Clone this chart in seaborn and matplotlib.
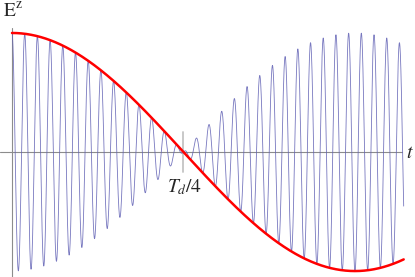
import numpy as np
import pandas as pd
import matplotlib
matplotlib.use("Agg")
import matplotlib.pyplot as plt
import seaborn as sns

# Values (time in units of T_d)
t_start = 0.0
t_end = 0.571            # where both curves stop
carrier_cycles = 54      # fast oscillations per T_d
envelope_amp = 1.0
marked_time = 0.25       # T_d/4 tick
marked_label = r"$T_d/4$"
y_label = r"$\mathrm{E}^{\mathrm{z}}$"
x_label = r"$t$"

t = np.linspace(t_start, t_end, 6000)
envelope = envelope_amp * np.cos(2 * np.pi * t)
signal = envelope * np.cos(2 * np.pi * carrier_cycles * t)
df = pd.DataFrame({"t": t, "envelope": envelope, "signal": signal})

sns.set_style("white")
plt.rcParams["mathtext.fontset"] = "stix"

fig = plt.figure(figsize=(4.15, 2.77), dpi=100)
ax = fig.add_axes([0, 0, 1, 1])

sns.lineplot(data=df, x="t", y="signal", ax=ax, color="#6060b4", lw=0.6, alpha=0.85)
sns.lineplot(data=df, x="t", y="envelope", ax=ax, color="#ff0000", lw=1.8)

ax.set_xlim(-0.0175, 0.5875)
ax.set_ylim(-1.050, 1.277)
ax.axis("off")

# axes through the origin, Mathematica style
ax.axhline(0, xmin=0, xmax=402 / 415, color="#8c8c8c", lw=0.8, zorder=0)
ax.axvline(0, ymin=0, ymax=(277 - 28) / 277, color="#8c8c8c", lw=0.8, zorder=0)
ax.plot([marked_time, marked_time], [-0.168, 0.168], color="#c4c4c4", lw=1.3, zorder=0)

ax.text(marked_time + 0.002, -0.215, marked_label, ha="center", va="top", fontsize=14)
ax.text(-0.013, 1.27, y_label, ha="left", va="top", fontsize=14)
ax.text(0.5805, 0.0, x_label, ha="center", va="center", fontsize=14)

fig.savefig("out.png", dpi=100)
